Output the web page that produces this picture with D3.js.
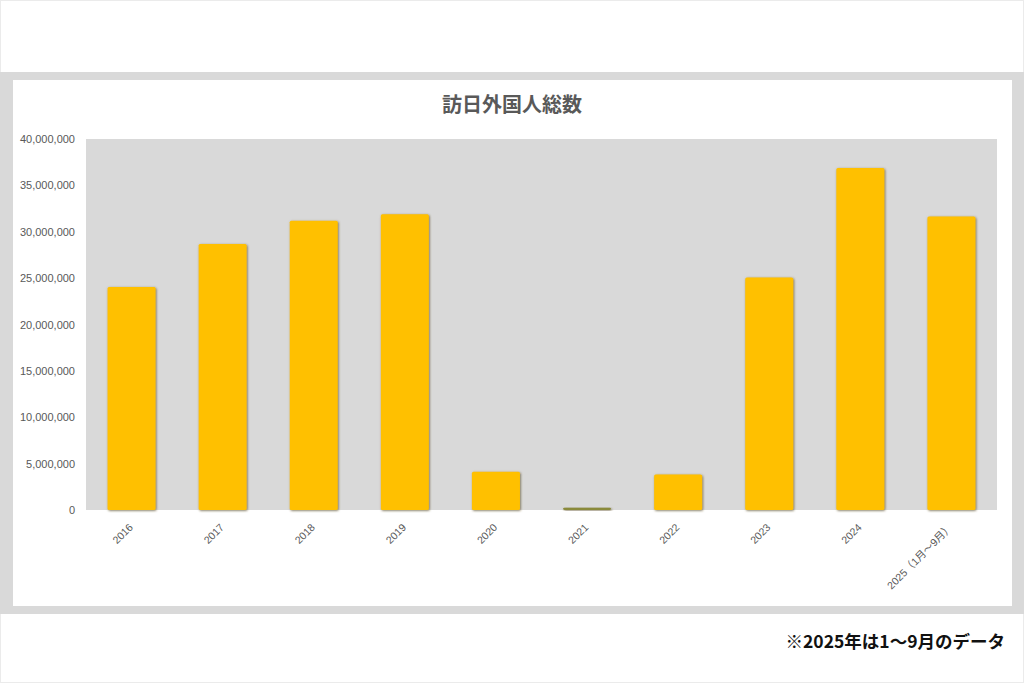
<!DOCTYPE html>
<html><head><meta charset="utf-8">
<script src="https://cdn.jsdelivr.net/npm/d3@7/dist/d3.min.js"></script>
<style>
html,body{margin:0;padding:0;background:#fff;}
svg{display:block;}
</style>
</head><body>
<svg id="c" width="1024" height="683"></svg>
<script>
const categories = ["2016","2017","2018","2019","2020","2021","2022","2023","2024","2025（1月～9月）"];
const visitors = [24039700, 28691073, 31191856, 31882049, 4115828, 245862, 3832110, 25066350, 36870148, 31650500];
const yTicks = [0, 5000000, 10000000, 15000000, 20000000, 25000000, 30000000, 35000000, 40000000];
const title = "訪日外国人総数";
const note = "※2025年は1～9月のデータ";

const svg = d3.select("#c");
const W = 1024, H = 683;

// page border
svg.append("rect").attr("x",0.5).attr("y",0.5).attr("width",W-1).attr("height",H-1)
  .attr("fill","#fff").attr("stroke","#ebebeb");
// gray frame
svg.append("rect").attr("x",0).attr("y",72).attr("width",W).attr("height",542).attr("fill","#d9d9d9");
svg.append("rect").attr("x",13).attr("y",80).attr("width",999).attr("height",526).attr("fill","#fff");

const defs = svg.append("defs");
const f = defs.append("filter").attr("id","sh").attr("x","-20%").attr("y","-20%").attr("width","140%").attr("height","140%");
f.append("feDropShadow").attr("dx",0.8).attr("dy",0.8).attr("stdDeviation",1.2)
  .attr("flood-color","#5a4a20").attr("flood-opacity",0.75);

const m = {l:86, r:997, t:139, b:510};
const x = d3.scaleBand().domain(categories).range([m.l, m.r]).paddingInner(0.473).paddingOuter(0.2365);
const y = d3.scaleLinear().domain([0, 40000000]).range([m.b, m.t]);

svg.append("rect").attr("x",m.l).attr("y",m.t).attr("width",m.r-m.l).attr("height",m.b-m.t).attr("fill","#d9d9d9");

svg.append("g").selectAll("rect").data(visitors).join("rect")
  .attr("x",(d,i)=>x(categories[i]))
  .attr("y",d=>y(d))
  .attr("width",x.bandwidth())
  .attr("height",d=>m.b-y(d))
  .attr("rx",1.5)
  .attr("fill",(d,i)=> d < 1000000 ? "#8a8a3a" : "#ffc000")
  .attr("filter","url(#sh)");

// y axis
const ya = svg.append("g").attr("transform",`translate(${m.l},0)`)
  .call(d3.axisLeft(y).tickValues(yTicks).tickSize(0).tickPadding(11).tickFormat(d3.format(",")));
ya.select(".domain").remove();
ya.selectAll("text").attr("fill","#595959").attr("font-family","Liberation Sans, Arial, sans-serif").attr("font-size","11px");

// x axis
const xa = svg.append("g").attr("transform",`translate(0,${m.b})`)
  .call(d3.axisBottom(x).tickSize(0).tickPadding(0));
xa.select(".domain").remove();
xa.selectAll("text")
  .attr("fill","#595959")
  .attr("font-family","Liberation Sans, 'Noto Sans CJK JP', sans-serif")
  .attr("font-size","10.5px")
  .attr("text-anchor","end")
  .attr("dy",0)
  .attr("transform","translate(2,18) rotate(-45)");

svg.append("text").attr("x",512).attr("y",112).attr("text-anchor","middle")
  .attr("font-family","'Noto Sans CJK JP', sans-serif").attr("font-weight","bold")
  .attr("font-size","20px").attr("fill","#595959").text(title);

svg.append("text").attr("x",1005).attr("y",648).attr("text-anchor","end")
  .attr("font-family","'Noto Sans CJK JP', sans-serif").attr("font-weight","bold")
  .attr("font-size","17.5px").attr("fill","#111").text(note);
</script>
</body></html>
